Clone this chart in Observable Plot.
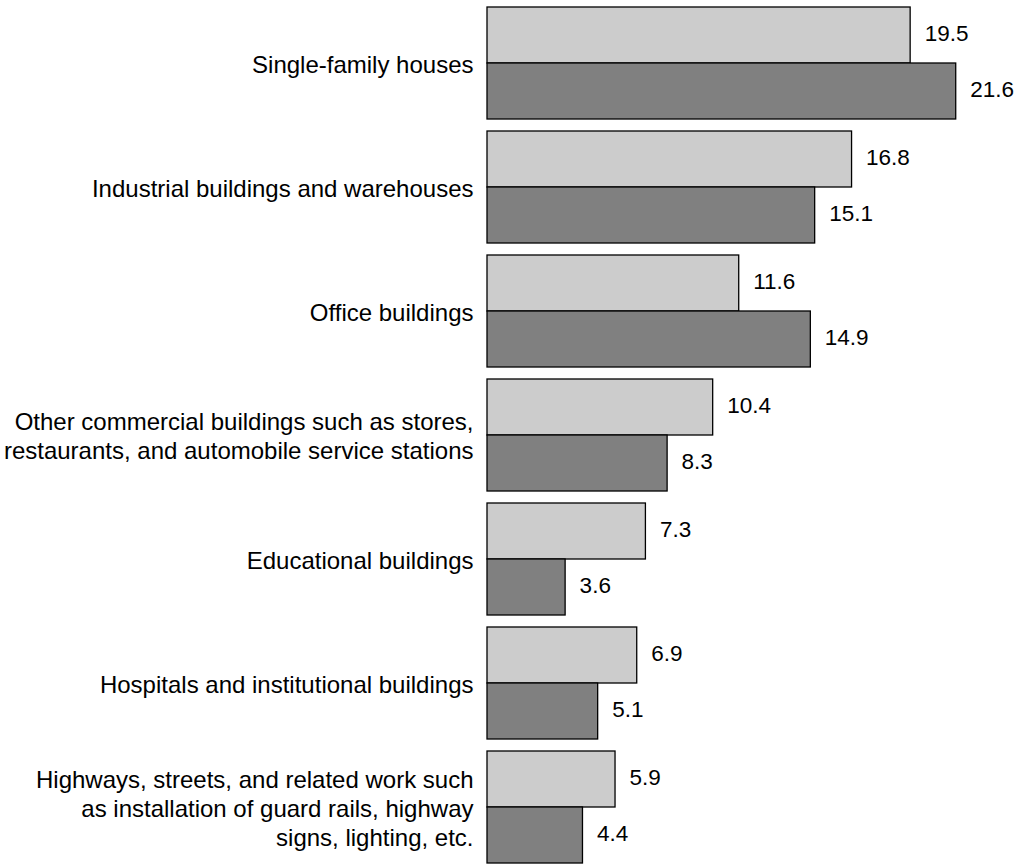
<!DOCTYPE html>
<html>
<head>
<meta charset="utf-8">
<script src="https://cdn.jsdelivr.net/npm/d3@7"></script>
<script src="https://cdn.jsdelivr.net/npm/@observablehq/plot@0.6"></script>
<style>
  html, body { margin: 0; padding: 0; background: #fff; }
  #chart svg { display: block; }
</style>
</head>
<body>
<div id="chart"></div>
<script>
const categories = [
  "Single-family houses",
  "Industrial buildings and warehouses",
  "Office buildings",
  "Other commercial buildings such as stores,\nrestaurants, and automobile service stations",
  "Educational buildings",
  "Hospitals and institutional buildings",
  "Highways, streets, and related work such\nas installation of guard rails, highway\nsigns, lighting, etc."
];
const seriesNames = ["Series 1", "Series 2"];
const series1 = [19.5, 16.8, 11.6, 10.4, 7.3, 6.9, 5.9];
const series2 = [21.6, 15.1, 14.9, 8.3, 3.6, 5.1, 4.4];
const seriesColors = ["#cccccc", "#808080"];

const rows = [];
categories.forEach((c, i) => {
  rows.push({category: c, series: seriesNames[0], value: series1[i]});
  rows.push({category: c, series: seriesNames[1], value: series2[i]});
});

const chart = Plot.plot({
  width: 1019,
  height: 865,
  marginLeft: 487,
  marginRight: 11.2,
  marginTop: 7,
  marginBottom: 2,
  style: {fontFamily: "Liberation Sans, Arial, sans-serif", fontSize: "23px", background: "#fff"},
  x: {domain: [0, 24], axis: null},
  y: {domain: seriesNames, axis: null, padding: 0},
  fy: {domain: categories, axis: null, padding: 0.0968},
  color: {domain: seriesNames, range: seriesColors},
  marks: [
    Plot.barX(rows, {
      fy: "category", y: "series", x: "value",
      fill: "series", stroke: "black", strokeWidth: 1.3
    }),
    Plot.text(rows, {
      fy: "category", y: "series", x: "value",
      text: d => d.value.toFixed(1),
      textAnchor: "start", dx: 14, dy: -2, fill: "black", fontSize: 22.5
    }),
    Plot.text(categories, {
      fy: d => d, text: d => d,
      frameAnchor: "left", textAnchor: "end", dx: -14,
      lineHeight: 1.2, fill: "black", fontSize: 24
    })
  ]
});
document.getElementById("chart").appendChild(chart);
</script>
</body>
</html>
